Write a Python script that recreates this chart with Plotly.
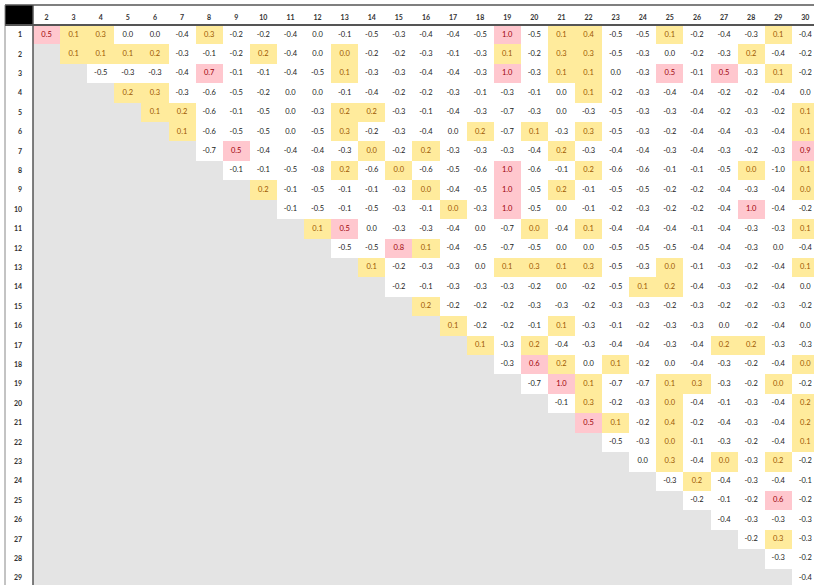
import plotly.graph_objects as go

# Column headers (2..30) and row headers (1..29)
columns = list(range(2, 31))
rows = list(range(1, 30))

# Values per row i for columns i+1 .. 30 (upper triangle).
# 0.01 marks a positive value that rounds to 0.0 (highlighted yellow)
r1 = [0.5, 0.1, 0.3, 0.0, 0.0, -0.4, 0.3, -0.2, -0.2, -0.4, 0.0, -0.1, -0.5, -0.3, -0.4, -0.4, -0.5, 1.0, -0.5, 0.1, 0.4, -0.5, -0.5, 0.1, -0.2, -0.4, -0.3, 0.1, -0.4]
r2 = [0.1, 0.1, 0.1, 0.2, -0.3, -0.1, -0.2, 0.2, -0.4, 0.0, 0.01, -0.2, -0.2, -0.3, -0.1, -0.3, 0.1, -0.2, 0.3, 0.3, -0.5, -0.3, 0.0, -0.2, -0.3, 0.2, -0.4, -0.2]
r3 = [-0.5, -0.3, -0.3, -0.4, 0.7, -0.1, -0.1, -0.4, -0.5, 0.1, -0.3, -0.3, -0.4, -0.4, -0.3, 1.0, -0.3, 0.1, 0.1, 0.0, -0.3, 0.5, -0.1, 0.5, -0.3, 0.1, -0.2]
r4 = [0.2, 0.3, -0.3, -0.6, -0.5, -0.2, 0.0, 0.0, -0.1, -0.4, -0.2, -0.2, -0.3, -0.1, -0.3, -0.1, 0.0, 0.1, -0.2, -0.3, -0.4, -0.4, -0.2, -0.2, -0.4, 0.0]
r5 = [0.1, 0.2, -0.6, -0.1, -0.5, 0.0, -0.3, 0.2, 0.2, -0.3, -0.1, -0.4, -0.3, -0.7, -0.3, 0.0, -0.3, -0.5, -0.3, -0.3, -0.4, -0.2, -0.3, -0.2, 0.1]
r6 = [0.1, -0.6, -0.5, -0.5, 0.0, -0.5, 0.3, -0.2, -0.3, -0.4, 0.0, 0.2, -0.7, 0.1, -0.3, 0.3, -0.5, -0.3, -0.2, -0.4, -0.4, -0.3, -0.4, 0.1]
r7 = [-0.7, 0.5, -0.4, -0.4, -0.4, -0.3, 0.01, -0.2, 0.2, -0.3, -0.3, -0.3, -0.4, 0.2, -0.3, -0.4, -0.4, -0.3, -0.4, -0.3, -0.2, -0.3, 0.9]
r8 = [-0.1, -0.1, -0.5, -0.8, 0.2, -0.6, 0.01, -0.6, -0.5, -0.6, 1.0, -0.6, -0.1, 0.2, -0.6, -0.6, -0.1, -0.1, -0.5, 0.01, -1.0, 0.1]
r9 = [0.2, -0.1, -0.5, -0.1, -0.1, -0.3, 0.01, -0.4, -0.5, 1.0, -0.5, 0.2, -0.1, -0.5, -0.5, -0.2, -0.2, -0.4, -0.3, -0.4, 0.01]
r10 = [-0.1, -0.5, -0.1, -0.5, -0.3, -0.1, 0.01, -0.3, 1.0, -0.5, 0.0, -0.1, -0.2, -0.3, -0.2, -0.2, -0.4, 1.0, -0.4, -0.2]
r11 = [0.1, 0.5, 0.0, -0.3, -0.3, -0.4, 0.0, -0.7, 0.01, -0.4, 0.1, -0.4, -0.4, -0.4, -0.1, -0.4, -0.3, -0.3, 0.1]
r12 = [-0.5, -0.5, 0.8, 0.1, -0.4, -0.5, -0.7, -0.5, 0.0, 0.0, -0.5, -0.5, -0.5, -0.4, -0.4, -0.3, 0.0, -0.4]
r13 = [0.1, -0.2, -0.3, -0.3, 0.0, 0.1, 0.3, 0.1, 0.3, -0.5, -0.3, 0.01, -0.1, -0.3, -0.2, -0.4, 0.1]
r14 = [-0.2, -0.1, -0.3, -0.3, -0.3, -0.2, 0.0, -0.2, -0.5, 0.1, 0.2, -0.4, -0.3, -0.2, -0.4, 0.0]
r15 = [0.2, -0.2, -0.2, -0.2, -0.3, -0.3, -0.2, -0.3, -0.3, -0.2, -0.3, -0.2, -0.2, -0.3, -0.2]
r16 = [0.1, -0.2, -0.2, -0.1, 0.1, -0.3, -0.1, -0.2, -0.3, -0.3, 0.0, -0.2, -0.4, 0.0]
r17 = [0.1, -0.3, 0.2, -0.4, -0.3, -0.4, -0.4, -0.3, -0.4, 0.2, 0.2, -0.3, -0.3]
r18 = [-0.3, 0.6, 0.2, 0.0, 0.1, -0.2, 0.0, -0.4, -0.3, -0.2, -0.4, 0.01]
r19 = [-0.7, 1.0, 0.1, -0.7, -0.7, 0.1, 0.3, -0.3, -0.2, 0.01, -0.2]
r20 = [-0.1, 0.3, -0.2, -0.3, 0.01, -0.4, -0.1, -0.3, -0.4, 0.2]
r21 = [0.5, 0.1, -0.2, 0.4, -0.2, -0.4, -0.3, -0.4, 0.2]
r22 = [-0.5, -0.3, 0.01, -0.1, -0.3, -0.2, -0.4, 0.1]
r23 = [0.0, 0.3, -0.4, 0.01, -0.3, 0.2, -0.2]
r24 = [-0.3, 0.2, -0.4, -0.3, -0.4, -0.1]
r25 = [-0.2, -0.1, -0.2, 0.6, -0.2]
r26 = [-0.4, -0.3, -0.3, -0.3]
r27 = [-0.2, 0.3, -0.3]
r28 = [-0.3, -0.2]
r29 = [-0.4]

row_values = [r1, r2, r3, r4, r5, r6, r7, r8, r9, r10, r11, r12, r13, r14, r15,
              r16, r17, r18, r19, r20, r21, r22, r23, r24, r25, r26, r27, r28, r29]

HIGH = 0.45  # pink from here up

def category(v):
    if v >= HIGH:
        return 2
    if v > 0:
        return 1
    return 0

# build matrix (None for lower triangle)
z = []
tx, ty, tt, tc = [], [], [], []
text_colors = {0: "#222222", 1: "#9C5700", 2: "#9C0006"}
for i, vals in zip(rows, row_values):
    line = []
    for c in columns:
        if c > i:
            v = vals[c - i - 1]
            k = category(v)
            line.append(k)
            tx.append(c)
            ty.append(i)
            tt.append(f"{v:.1f}")
            tc.append(text_colors[k])
        else:
            line.append(None)
    z.append(line)

fig = go.Figure()
fig.add_trace(go.Heatmap(
    x=columns, y=rows, z=z, zmin=0, zmax=2,
    colorscale=[[0, "#FFFFFF"], [0.333, "#FFFFFF"], [0.333, "#FFEB9C"],
                [0.667, "#FFEB9C"], [0.667, "#FFC7CE"], [1, "#FFC7CE"]],
    showscale=False, hoverinfo="skip", xgap=0, ygap=0,
))
fig.add_trace(go.Scatter(
    x=tx, y=ty, text=tt, mode="text",
    textfont=dict(family="Lato, Open Sans, sans-serif", size=7.5, color=tc),
    textposition="middle center", hoverinfo="skip", showlegend=False,
))

W, H = 814, 585
L, T = 33, 25
pw, ph = W - L, H - T
col_w = 27.1
row_h = 19.4

fig.update_layout(
    width=W, height=H, autosize=False,
    margin=dict(l=L, r=0, t=T, b=0, pad=0, autoexpand=False),
    paper_bgcolor="white", plot_bgcolor="#E4E4E4",
    showlegend=False,
    xaxis=dict(range=[1.5, 1.5 + pw / col_w], side="top", tickmode="array",
               tickvals=columns, ticktext=[f"<b>{c}</b>" for c in columns],
               showgrid=False, zeroline=False, showline=False, ticks="",
               automargin=False,
               tickfont=dict(family="Lato, Open Sans, sans-serif", size=7, color="#333333"),
               ticklabelstandoff=3),
    yaxis=dict(range=[0.5 + ph / row_h, 0.5], tickmode="array",
               tickvals=rows, ticktext=[f"<b>{r}</b>" for r in rows],
               showgrid=False, zeroline=False, showline=False, ticks="",
               automargin=False,
               tickfont=dict(family="Lato, Open Sans, sans-serif", size=7, color="#333333"),
               ticklabelstandoff=10),
)

x_left = (5 - L) / pw
y_top = 1 + (T - 5) / ph
shapes = [
    dict(type="rect", xref="paper", yref="paper", x0=x_left, x1=0, y0=1, y1=y_top,
         fillcolor="black", line=dict(width=0), layer="above"),
    dict(type="line", xref="paper", yref="paper", x0=x_left, x1=1, y0=y_top, y1=y_top,
         line=dict(color="#555555", width=1.5), layer="above"),
    dict(type="line", xref="paper", yref="paper", x0=x_left, x1=x_left, y0=0, y1=y_top,
         line=dict(color="#888888", width=1), layer="above"),
    dict(type="line", xref="paper", yref="paper", x0=0, x1=0, y0=0, y1=y_top,
         line=dict(color="#555555", width=1.5), layer="above"),
    dict(type="line", xref="paper", yref="paper", x0=x_left, x1=1, y0=1, y1=1,
         line=dict(color="#555555", width=2), layer="above"),
]
fig.update_layout(shapes=shapes)

fig.write_html(
    "out.html",
    config={"displayModeBar": False, "staticPlot": True},
    post_script="document.body.style.margin='0px';document.body.style.padding='0px';document.body.style.overflow='hidden';",
)
